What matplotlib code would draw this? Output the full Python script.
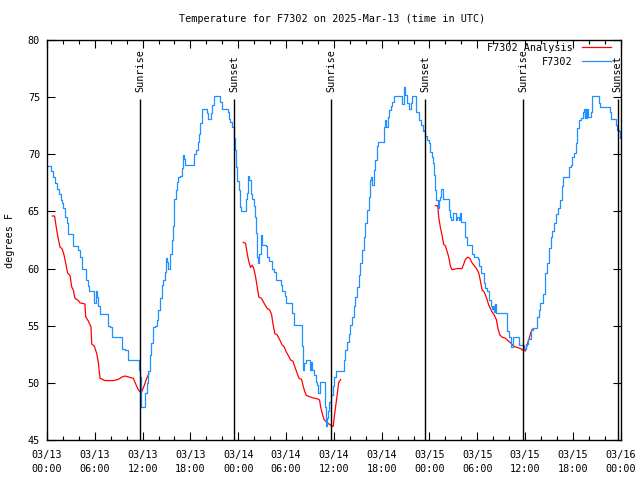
import numpy as np
import pandas as pd
import matplotlib
matplotlib.use("Agg")
import matplotlib.pyplot as plt
import matplotlib.dates as mdates

# hours after 2025-03-13 00:00 UTC
obs_hours = [0.0, 0.17, 0.5, 0.75, 1.0, 1.21, 1.51, 1.72, 1.92, 2.05, 2.26, 2.47, 2.68, 3.31,
             3.93, 4.14, 4.35, 4.85, 5.1, 5.27, 5.94, 6.11, 6.23, 6.44, 6.65, 7.62, 7.91, 8.12,
             9.37, 9.79, 10.13, 11.59, 11.67, 11.85, 12.1, 12.31, 12.52,
             12.73, 12.94, 13.07, 13.28, 13.57, 13.78, 13.99, 14.2, 14.41, 14.61, 14.82, 14.95,
             15.12, 15.24, 15.45, 15.66, 15.79, 15.96, 16.21, 16.37, 16.5, 16.71, 16.92, 17.13,
             17.25, 17.34, 18.3, 18.47, 18.72, 18.89, 19.05, 19.22, 19.43, 19.85, 20.06, 20.19,
             20.39, 20.56, 20.69, 20.9, 21.6, 21.73, 21.94, 22.57, 22.66, 22.78, 22.99, 23.2,
             23.41, 23.54, 23.66, 23.83, 24.04, 24.25, 24.33, 24.83, 24.92, 25.08, 25.21, 25.33,
             25.54, 25.75, 25.96, 26.09, 26.25, 26.38, 26.51, 26.59, 26.8, 26.92, 27.0, 27.43,
             27.64, 27.85, 28.18, 28.48, 28.69, 29.11, 29.32, 29.52, 29.86, 30.03, 30.57, 30.78,
             30.99, 31.83, 31.95, 32.04, 32.16, 32.29, 32.45, 32.79, 32.96, 33.08, 33.29, 33.5,
             33.71, 33.92, 34.04, 34.21, 34.76, 34.88, 34.97, 35.09, 35.28, 35.45, 35.64, 35.85,
             36.05, 36.27, 37.02, 37.23, 37.44, 37.65, 37.85, 38.06, 38.27, 38.48, 38.69, 38.9,
             39.11, 39.32, 39.52, 39.73, 39.94, 40.15, 40.36, 40.57, 40.68, 40.77, 40.98, 41.15,
             41.36, 41.57, 42.12, 42.24, 42.41, 42.53, 42.74, 42.95, 43.16, 43.36, 43.57, 44.33,
             44.5, 44.75, 44.92, 45.17, 45.47, 45.62, 45.8, 46.09, 46.35, 46.65, 46.94, 47.15,
             47.28, 47.49, 47.7, 47.9, 48.12, 48.3, 48.45, 48.62, 48.7, 48.87, 49.04, 49.16,
             49.37, 49.5, 49.66, 50.29, 50.42, 50.63, 50.75, 50.92, 51.26, 51.38, 51.5, 51.68,
             51.88, 51.97, 52.3, 52.51, 52.72, 53.14, 53.35, 53.56, 53.9, 54.05, 54.19, 54.48,
             54.82, 55.02, 55.24, 55.45, 55.66, 55.86, 55.99, 56.07, 56.28, 56.41, 57.66, 57.75,
             57.96, 58.17, 58.29, 58.5, 59.01, 59.22, 59.84, 60.17, 60.34, 60.59, 60.76, 61.01,
             61.51, 61.72, 61.85, 62.06, 62.27, 62.44, 62.56, 62.77, 62.98, 63.19, 63.4, 63.61,
             63.94, 64.11, 64.32, 64.66, 64.78, 65.28, 65.49, 65.7, 65.91, 66.12, 66.33, 66.54,
             66.75, 67.04, 67.21, 67.38, 67.46, 67.55, 67.67, 67.8, 67.92, 68.21, 68.38, 69.05,
             69.26, 69.39, 70.52, 70.65, 70.81, 71.27, 71.4, 71.48, 71.78, 71.9, 72.0]
obs_temp = [69.0, 69.0, 68.5, 68.0, 67.5, 67.0, 66.5, 66.0, 65.7, 65.3, 64.5, 64.0, 63.0, 62.0,
            61.6, 61.0, 60.0, 59.0, 58.5, 58.0, 57.0, 58.0, 57.5, 56.7, 56.0, 55.0, 54.9, 54.0,
            53.0, 52.9, 52.0, 51.1, 50.5, 47.9, 47.9, 49.1, 50.0,
            51.0, 52.4, 53.5, 54.9, 55.0, 55.5, 56.4, 57.4, 58.6, 59.0, 59.7, 60.9,
            60.6, 60.0, 61.3, 62.5, 63.7, 66.1, 66.9, 67.6, 68.0, 68.1, 68.8, 69.9,
            69.6, 69.1, 69.1, 70.0, 70.4, 71.1, 71.8, 72.7, 74.0, 74.0, 73.6, 73.1,
            73.1, 73.6, 74.3, 75.1, 75.1, 74.6, 74.0, 74.0, 73.7, 73.1, 72.8, 72.4,
            71.4, 70.4, 68.9, 67.7, 66.9, 65.4, 65.0, 65.0, 66.1, 66.6, 68.1, 67.75,
            66.5, 66.1, 65.5, 64.5, 63.1, 61.0, 60.5, 61.3, 62.9, 62.6, 62.1, 62.0,
            61.0, 60.7, 60.0, 59.7, 59.0, 59.0, 58.6, 58.0, 57.6, 57.0, 57.0, 56.1,
            55.1, 55.1, 54.5, 53.2, 51.1, 51.7, 52.0, 52.0, 51.1, 51.8, 51.1, 50.7,
            50.1, 49.8, 49.1, 50.1, 50.1, 47.9, 46.2, 46.9, 47.5, 48.3, 48.9, 49.7,
            50.5, 51.0, 51.0, 52.0, 52.9, 53.6, 54.3, 55.1, 55.8, 56.7, 57.5, 58.4,
            59.4, 60.5, 61.6, 62.8, 64.0, 65.1, 66.3, 67.75, 68.0, 67.3, 68.6, 69.5,
            70.7, 71.1, 71.1, 72.4, 73.0, 72.4, 73.3, 73.9, 74.2, 74.6, 75.1, 75.1,
            74.4, 75.9, 75.2, 74.5, 74.0, 74.5, 75.1, 75.1, 73.7, 73.0, 72.6, 72.0,
            72.1, 71.6, 71.25, 71.0, 70.2, 69.8, 69.2, 68.2, 66.9, 66.0, 65.3, 66.0,
            66.3, 67.0, 66.1, 66.1, 65.1, 64.5, 64.25, 64.9, 64.9, 64.25, 64.5, 64.25,
            64.9, 64.1, 64.1, 62.8, 62.1, 62.1, 61.3, 61.0, 61.0, 60.8, 60.2, 59.6,
            58.7, 58.3, 58.0, 57.25, 56.7, 56.5, 56.7, 56.2, 56.9, 56.1, 56.1, 54.5,
            54.0, 53.5, 53.1, 54.0, 54.0, 53.3, 53.0, 53.4, 53.8, 53.8, 54.6, 54.8,
            55.8, 56.4, 57.0, 57.0, 57.8, 58.7, 59.6, 60.5, 61.8, 62.8, 63.3, 64.0,
            64.8, 65.3, 66.0, 67.2, 68.0, 68.0, 68.9, 69.1, 69.8, 70.1, 71.0, 72.3,
            73.0, 73.2, 73.7, 74.0, 73.2, 74.0, 73.2, 74.0, 73.3, 73.7, 75.1, 75.1,
            74.5, 74.1, 74.1, 73.7, 73.1, 73.1, 72.6, 72.1, 72.0, 71.4, 71.4]

# analysis runs, one per morning
ana1_hours = [0.67, 0.95, 1.21, 1.42, 1.63, 1.92, 2.13, 2.34, 2.59, 2.89, 3.1, 3.31, 3.51, 3.93,
              4.14, 4.77, 4.85, 5.19, 5.52, 5.61, 5.94, 6.23, 6.44, 6.65, 7.28, 8.33, 8.95,
              9.37, 9.79, 10.29, 10.84, 11.13, 11.46, 11.7, 11.88, 12.22, 12.51, 12.8]
ana1_temp = [64.6, 64.6, 63.4, 62.6, 61.9, 61.7, 61.2, 60.5, 59.6, 59.4, 58.4, 58.1, 57.4, 57.2,
             57.0, 56.9, 55.8, 55.4, 54.9, 53.4, 53.2, 52.6, 51.8, 50.4, 50.2, 50.2, 50.3,
             50.5, 50.6, 50.5, 50.4, 49.9, 49.4, 49.2, 49.2, 49.8, 50.4, 50.8]
ana2_hours = [24.62, 24.92, 25.13, 25.33, 25.54, 25.75, 25.96, 26.17, 26.38, 26.59, 26.92, 27.22,
              27.64, 27.93, 28.18, 28.35, 28.6, 28.89, 29.11, 29.32, 29.52, 29.73, 30.03, 30.36,
              30.57, 30.86, 31.11, 31.41, 31.62, 31.95, 32.12, 32.37, 32.54, 32.96, 33.29, 33.92,
              34.21, 34.34, 34.55, 34.76, 35.18, 35.39, 35.8, 35.93, 36.06, 36.22, 36.35, 36.6, 36.85]
ana2_temp = [62.3, 62.2, 61.3, 60.6, 60.1, 60.3, 60.0, 59.3, 58.4, 57.5, 57.4, 57.0,
             56.5, 56.4, 56.0, 55.2, 54.3, 54.2, 53.9, 53.6, 53.3, 53.2, 52.7, 52.3,
             52.0, 51.9, 51.4, 50.8, 50.4, 50.3, 49.8, 49.2, 48.9, 48.8, 48.7, 48.6,
             48.5, 47.9, 47.3, 46.8, 46.5, 46.4, 46.2, 46.2, 47.1, 47.9, 48.6, 50.0, 50.3]
ana3_hours = [48.74, 49.04, 49.16, 49.37, 49.58, 49.79, 50.0, 50.21, 50.42, 50.63, 50.84, 51.47,
              52.09, 52.3, 52.51, 52.81, 53.06, 53.35, 53.56, 53.9, 54.19, 54.4, 54.61, 54.82,
              55.02, 55.23, 55.44, 55.65, 55.86, 56.16, 56.41, 56.58, 56.83, 57.12, 57.54, 57.83,
              58.17, 58.59, 59.0, 59.42, 59.84, 60.05, 60.26, 60.47, 60.68, 60.89]
ana3_temp = [65.5, 65.5, 64.5, 63.6, 62.9, 62.1, 62.0, 61.5, 61.0, 60.2, 59.9, 60.0,
             60.0, 60.4, 60.8, 61.0, 60.9, 60.5, 60.3, 60.0, 59.6, 58.9, 58.1, 58.0,
             57.7, 57.3, 56.8, 56.5, 56.2, 55.9, 55.5, 54.8, 54.2, 54.0, 53.9, 53.7,
             53.5, 53.2, 53.1, 53.0, 52.8, 52.8, 53.3, 53.8, 54.3, 54.7]

sun_hours = [11.7, 23.51, 35.68, 47.48, 59.78, 71.62]
sun_names = ["Sunrise", "Sunset", "Sunrise", "Sunset", "Sunrise", "Sunset"]

start = pd.Timestamp("2025-03-13 00:00")


def to_time(h):
    return start + pd.to_timedelta(np.asarray(h), unit="h")


plt.rcParams["font.family"] = "DejaVu Sans Mono"
plt.rcParams["font.size"] = 7.3

fig = plt.figure(figsize=(6.4, 4.8), dpi=100)
ax = fig.add_axes([47 / 640, 40 / 480, 573.7 / 640, 400 / 480])

red = "#ff0000"
blue = "#1e90ff"
ax.plot(to_time(ana1_hours), ana1_temp, color=red, lw=0.9, label="F7302 Analysis")
ax.plot(to_time(ana2_hours), ana2_temp, color=red, lw=0.9)
ax.plot(to_time(ana3_hours), ana3_temp, color=red, lw=0.9)
ax.plot(to_time(obs_hours), obs_temp, color=blue, lw=0.9, drawstyle="steps-post", label="F7302")

for h, name in zip(sun_hours, sun_names):
    t = to_time(h)
    ax.vlines(t, 45, 74.8, color="k", lw=1.0)
    ax.text(t, 75.45, name, rotation=90, ha="center", va="bottom")

ax.set_xlim(start, start + pd.Timedelta(days=3))
ax.set_ylim(45, 80)
ax.set_yticks(np.arange(45, 81, 5))
ax.xaxis.set_major_locator(mdates.HourLocator(byhour=range(0, 24, 6)))
ax.xaxis.set_minor_locator(mdates.HourLocator(byhour=range(0, 24, 2)))
ax.xaxis.set_major_formatter(mdates.DateFormatter("%m/%d\n%H:%M"))

ax.tick_params(which="both", direction="in", top=True, right=True, width=0.8)
ax.tick_params(which="major", length=6)
ax.tick_params(which="minor", length=3)
ax.tick_params(axis="x", pad=7)
ax.tick_params(axis="y", pad=5)
for s in ax.spines.values():
    s.set_linewidth(1.0)

fig.canvas.draw()
for lab in ax.get_xticklabels():
    lab.set_linespacing(1.5)

fig.text(332 / 640, 1 - 19 / 480, "Temperature for F7302 on 2025-Mar-13 (time in UTC)",
         ha="center", va="center")
fig.text(10 / 640, 0.5, "degrees F", rotation=90, ha="center", va="center")

ax.legend(loc="upper right", bbox_to_anchor=(611 / 640, 1 - 43 / 480),
          bbox_transform=fig.transFigure, frameon=False, markerfirst=False,
          borderpad=0, borderaxespad=0, handlelength=2.9, handletextpad=0.9,
          labelspacing=0.35)

fig.savefig("out.png", dpi=100)
